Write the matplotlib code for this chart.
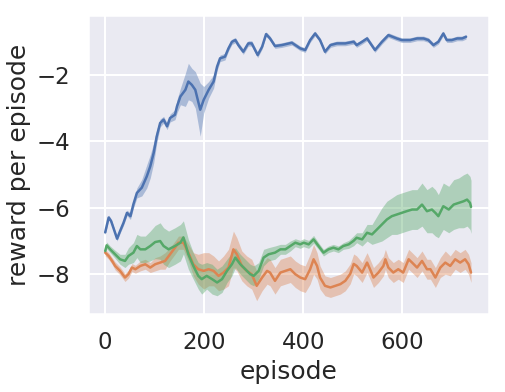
import numpy as np
import matplotlib
matplotlib.use("Agg")
import matplotlib.pyplot as plt
import seaborn as sns

# blue run: episode, mean reward, half-width of the band
ep_blue = [0, 7, 12, 24, 30, 37, 44, 51, 57, 64, 74, 84, 91, 98, 104, 111, 118, 125,
           131, 141, 145, 152, 162, 168, 175, 182, 192, 199, 209, 219, 226, 232, 242,
           249, 256, 263, 269, 279, 289, 296, 308, 317, 325, 333, 343, 357, 377, 394,
           404, 414, 424, 434, 444, 455, 468, 485, 502, 508, 519, 529, 545, 559, 572,
           589, 599, 616, 630, 643, 653, 663, 673, 683, 690, 700, 711, 721, 729]
blue_mean = [-6.75, -6.3, -6.41, -6.94, -6.71, -6.46, -6.16, -6.26, -5.9, -5.56, -5.4,
             -5.06, -4.76, -4.35, -3.86, -3.45, -3.35, -3.55, -3.3, -3.2, -2.95, -2.65,
             -2.45, -2.2, -2.3, -2.45, -3.05, -2.75, -2.45, -2.2, -1.75, -1.5, -1.45,
             -1.2, -1.0, -0.95, -1.1, -1.3, -1.05, -1.05, -1.4, -1.15, -0.77, -0.9,
             -1.13, -1.1, -1.03, -1.2, -1.25, -0.95, -0.75, -0.95, -1.3, -1.1, -1.05,
             -1.05, -1.0, -1.1, -1.0, -0.9, -1.25, -1.0, -0.8, -0.9, -0.95, -0.95, -0.9,
             -0.9, -0.95, -1.1, -1.0, -0.75, -0.95, -0.95, -0.9, -0.9, -0.85]
blue_band = [0.07, 0.07, 0.07, 0.07, 0.07, 0.08, 0.08, 0.1, 0.12, 0.15, 0.25, 0.35,
             0.35, 0.3, 0.2, 0.12, 0.1, 0.1, 0.12, 0.15, 0.2, 0.25, 0.5, 0.55, 0.5,
             0.55, 0.8, 0.4, 0.25, 0.2, 0.12, 0.1, 0.1, 0.08, 0.08, 0.08, 0.08, 0.08,
             0.08, 0.08, 0.08, 0.07, 0.07, 0.07, 0.07, 0.07, 0.07, 0.07, 0.07, 0.07,
             0.07, 0.07, 0.07, 0.07, 0.07, 0.07, 0.07, 0.07, 0.07, 0.07, 0.07, 0.07,
             0.07, 0.07, 0.07, 0.07, 0.07, 0.07, 0.07, 0.07, 0.07, 0.07, 0.07, 0.07,
             0.07, 0.07, 0.07]

# orange run
ep_orange = [0, 7, 14, 20, 30, 40, 47, 54, 61, 71, 81, 91, 101, 111, 121, 131, 141, 148,
             158, 168, 178, 188, 199, 209, 219, 229, 239, 249, 259, 266, 276, 286, 296,
             306, 317, 327, 333, 343, 354, 364, 374, 384, 394, 404, 414, 421, 428, 434,
             444, 455, 465, 475, 485, 495, 502, 508, 519, 529, 535, 542, 552, 562, 566,
             572, 582, 592, 602, 613, 620, 630, 640, 650, 657, 667, 677, 687, 697, 707,
             717, 727, 734, 739]
orange_mean = [-7.36, -7.46, -7.61, -7.76, -7.91, -8.11, -8.01, -7.81, -7.86, -7.76,
               -7.71, -7.81, -7.71, -7.66, -7.61, -7.41, -7.21, -7.06, -7.06, -7.36,
               -7.71, -7.86, -7.91, -7.86, -7.91, -8.06, -7.96, -7.81, -7.26, -7.41,
               -7.76, -7.91, -8.01, -8.36, -8.11, -7.91, -7.96, -8.21, -7.96, -7.91,
               -7.86, -8.01, -8.11, -8.16, -7.86, -7.56, -7.76, -8.11, -8.36, -8.41,
               -8.36, -8.31, -8.21, -8.0, -7.7, -7.76, -7.96, -7.66, -7.86, -8.11,
               -7.96, -7.76, -7.56, -7.81, -7.96, -7.86, -7.96, -7.56, -7.66, -7.81,
               -7.61, -7.86, -7.86, -8.11, -7.81, -7.66, -7.76, -7.56, -7.66, -7.56,
               -7.71, -7.96]
orange_band = [0.1, 0.1, 0.1, 0.12, 0.12, 0.12, 0.12, 0.12, 0.12, 0.15, 0.15, 0.15, 0.2,
               0.2, 0.25, 0.2, 0.2, 0.2, 0.2, 0.25, 0.35, 0.45, 0.55, 0.5, 0.45, 0.45,
               0.5, 0.55, 0.55, 0.5, 0.45, 0.45, 0.45, 0.45, 0.4, 0.4, 0.4, 0.4, 0.4,
               0.4, 0.4, 0.4, 0.4, 0.4, 0.45, 0.45, 0.4, 0.35, 0.3, 0.3, 0.3, 0.3, 0.3,
               0.3, 0.3, 0.3, 0.3, 0.3, 0.3, 0.3, 0.3, 0.3, 0.3, 0.3, 0.3, 0.3, 0.3, 0.3,
               0.3, 0.3, 0.3, 0.3, 0.3, 0.3, 0.3, 0.35, 0.3, 0.3, 0.3, 0.3, 0.3, 0.3]

# green run
ep_green = [0, 3, 10, 20, 30, 40, 47, 57, 64, 71, 81, 91, 101, 111, 118, 128, 141, 152,
            158, 168, 178, 188, 195, 205, 216, 226, 236, 246, 256, 263, 273, 283, 293,
            300, 310, 320, 330, 343, 354, 364, 374, 384, 394, 401, 411, 421, 431, 441,
            451, 461, 471, 481, 492, 502, 508, 519, 529, 539, 549, 559, 569, 579, 589,
            599, 609, 620, 630, 640, 650, 660, 667, 673, 683, 694, 704, 714, 724, 731,
            737, 739]
green_mean = [-7.31, -7.14, -7.26, -7.41, -7.56, -7.61, -7.46, -7.36, -7.16, -7.26,
              -7.26, -7.16, -7.04, -7.01, -7.16, -7.26, -7.16, -7.06, -6.9, -7.41,
              -7.76, -8.06, -8.16, -8.06, -8.16, -8.26, -8.16, -7.91, -7.71, -7.51,
              -7.71, -7.86, -8.01, -8.06, -7.91, -7.51, -7.41, -7.36, -7.26, -7.26,
              -7.16, -7.06, -7.11, -7.06, -7.11, -6.96, -7.16, -7.36, -7.26, -7.21,
              -7.26, -7.16, -7.11, -7.0, -6.91, -6.96, -6.76, -6.81, -6.66, -6.51,
              -6.36, -6.26, -6.21, -6.16, -6.11, -6.06, -6.06, -5.91, -6.11, -6.06,
              -6.16, -6.26, -5.96, -6.06, -5.91, -5.86, -5.81, -5.76, -5.86, -5.98]
green_band = [0.1, 0.1, 0.1, 0.12, 0.15, 0.2, 0.25, 0.3, 0.35, 0.4, 0.4, 0.45, 0.5, 0.55,
              0.55, 0.55, 0.55, 0.55, 0.5, 0.45, 0.4, 0.4, 0.45, 0.4, 0.45, 0.4, 0.4,
              0.35, 0.35, 0.3, 0.3, 0.3, 0.3, 0.3, 0.25, 0.25, 0.2, 0.2, 0.15, 0.15,
              0.15, 0.12, 0.12, 0.12, 0.12, 0.12, 0.1, 0.1, 0.1, 0.1, 0.1, 0.1, 0.12,
              0.15, 0.15, 0.2, 0.25, 0.3, 0.4, 0.5, 0.55, 0.55, 0.6, 0.6, 0.6, 0.6, 0.6,
              0.65, 0.65, 0.7, 0.7, 0.65, 0.7, 0.7, 0.75, 0.75, 0.8, 0.8, 0.8, 0.8]

sns.set_theme(context="talk", style="darkgrid")
colors = sns.color_palette("deep")

fig, ax = plt.subplots(figsize=(5.05, 3.92), dpi=100)
fig.subplots_adjust(left=0.174, right=0.968, top=0.962, bottom=0.199)

runs = [(ep_blue, blue_mean, blue_band, colors[0]),
        (ep_orange, orange_mean, orange_band, colors[1]),
        (ep_green, green_mean, green_band, colors[2])]
for ep, mean, band, c in runs:
    ep = np.array(ep)
    mean = np.array(mean)
    band = np.array(band)
    ax.fill_between(ep, mean - band, mean + band, color=c, alpha=0.4, linewidth=0)
    ax.plot(ep, mean, color=c, linewidth=1.8)

ax.set_xlim(-35, 775)
ax.set_ylim(-9.21, -0.19)
ax.set_xticks([0, 200, 400, 600])
ax.set_yticks([-8, -6, -4, -2])
ax.set_xlabel("episode")
ax.set_ylabel("reward per episode")

fig.savefig("out.png", dpi=100)
